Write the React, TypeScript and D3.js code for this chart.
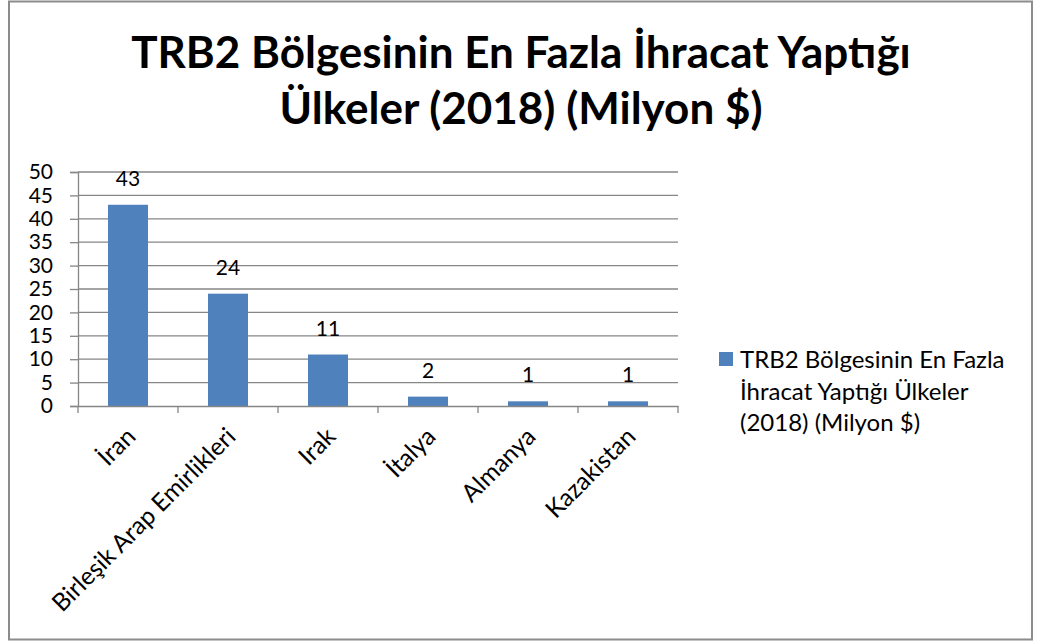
import React, { useRef, useEffect } from "react";
import * as d3 from "d3";

const countries = ["İran", "Birleşik Arap Emirlikleri", "Irak", "İtalya", "Almanya", "Kazakistan"];
const exports2018 = [43, 24, 11, 2, 1, 1];
const yTicks = [0, 5, 10, 15, 20, 25, 30, 35, 40, 45, 50];
const titleLines = ["TRB2 Bölgesinin En Fazla İhracat Yaptığı", "Ülkeler (2018) (Milyon $)"];
const legendLines = ["TRB2 Bölgesinin En Fazla", "İhracat Yaptığı Ülkeler", "(2018) (Milyon $)"];

const FONT = "Lato, 'Open Sans', sans-serif";
const BLUE = "#4f81bd";

export default function App() {
  const svgRef = useRef<SVGSVGElement>(null);

  useEffect(() => {
    document.body.style.margin = "0";
    const svg = d3.select(svgRef.current);
    svg.selectAll("*").remove();

    const W = 1038, H = 643;
    svg.attr("width", W).attr("height", H).style("display", "block");

    // outer frame
    svg.append("rect")
      .attr("x", 9).attr("y", 1.5)
      .attr("width", 1023).attr("height", 638)
      .attr("fill", "white")
      .attr("stroke", "#8c8c8c")
      .attr("stroke-width", 2);

    // title
    svg.append("g").selectAll("text")
      .data(titleLines)
      .enter().append("text")
      .attr("x", 521)
      .attr("y", (d, i) => 68 + i * 56)
      .attr("text-anchor", "middle")
      .style("font-family", FONT)
      .style("font-weight", "bold")
      .style("font-size", "44px")
      .attr("fill", "black")
      .text(d => d);

    const left = 78, right = 678, top = 172, bottom = 406;

    const x = d3.scaleBand().domain(countries).range([left, right]).paddingInner(0).paddingOuter(0);
    const y = d3.scaleLinear().domain([0, 50]).range([bottom, top]);

    // gridlines
    svg.append("g").selectAll("line")
      .data(yTicks.filter(t => t > 0))
      .enter().append("line")
      .attr("x1", left).attr("x2", right)
      .attr("y1", d => y(d)).attr("y2", d => y(d))
      .attr("stroke", "#868686").attr("stroke-width", 1.3);

    // y axis
    const yAxis = svg.append("g")
      .attr("transform", `translate(${left},0)`)
      .call(d3.axisLeft(y).tickValues(yTicks).tickSize(8).tickPadding(17));
    yAxis.select(".domain").attr("stroke", "#868686").attr("stroke-width", 1.3);
    yAxis.selectAll(".tick line").attr("stroke", "#868686").attr("stroke-width", 1.3);
    yAxis.selectAll("text")
      .attr("fill", "black")
      .style("font-family", FONT)
      .style("font-size", "21px");

    // bars
    const barW = 40;
    svg.append("g").selectAll("rect")
      .data(countries)
      .enter().append("rect")
      .attr("x", d => (x(d) as number) + x.bandwidth() / 2 - barW / 2)
      .attr("y", (d, i) => y(exports2018[i]))
      .attr("width", barW)
      .attr("height", (d, i) => bottom - y(exports2018[i]))
      .attr("fill", BLUE);

    // value labels
    svg.append("g").selectAll("text")
      .data(countries)
      .enter().append("text")
      .attr("x", d => (x(d) as number) + x.bandwidth() / 2)
      .attr("y", (d, i) => y(exports2018[i]) - 19)
      .attr("text-anchor", "middle")
      .style("font-family", FONT)
      .style("font-size", "21px")
      .attr("fill", "black")
      .text((d, i) => exports2018[i]);

    // x axis
    const xAxis = svg.append("g")
      .attr("transform", `translate(0,${bottom})`)
      .call(d3.axisBottom(x).tickSize(0).tickFormat(() => ""));
    xAxis.select(".domain").attr("stroke", "#868686").attr("stroke-width", 1.3);
    const bounds = [left, ...countries.map(c => (x(c) as number) + x.bandwidth())];
    svg.append("g").selectAll("line")
      .data(bounds)
      .enter().append("line")
      .attr("x1", d => d).attr("x2", d => d)
      .attr("y1", bottom).attr("y2", bottom + 7)
      .attr("stroke", "#868686").attr("stroke-width", 1.3);

    // rotated category labels
    svg.append("g").selectAll("text")
      .data(countries)
      .enter().append("text")
      .attr("transform", d => `translate(${(x(d) as number) + x.bandwidth() / 2 + 3},${bottom + 26}) rotate(-45)`)
      .attr("text-anchor", "end")
      .attr("dy", "0.35em")
      .style("font-family", FONT)
      .style("font-size", "24.5px")
      .attr("fill", "black")
      .text(d => d);

    // legend
    const legend = svg.append("g").attr("transform", "translate(719,352)");
    legend.append("rect")
      .attr("x", 0).attr("y", 0)
      .attr("width", 14).attr("height", 14)
      .attr("fill", BLUE);
    legend.selectAll("text")
      .data(legendLines)
      .enter().append("text")
      .attr("x", 21)
      .attr("y", (d, i) => 16 + i * 31.5)
      .style("font-family", FONT)
      .style("font-size", "24px")
      .attr("fill", "black")
      .text(d => d);
  }, []);

  return <svg ref={svgRef}></svg>;
}
